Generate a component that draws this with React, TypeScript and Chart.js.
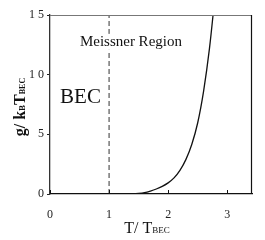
import React, { useEffect, useRef } from "react";
import { Chart, registerables } from "chart.js";

Chart.register(...registerables);

const curveT = [0, 0.5, 1.0, 1.2, 1.3, 1.4, 1.5, 1.6, 1.7, 1.8, 1.9, 2.0, 2.1, 2.2, 2.3, 2.4, 2.5, 2.6, 2.7, 2.8];
const curveG = [0, 0, 0, 0, 0, 0.01, 0.05, 0.12, 0.25, 0.42, 0.64, 0.93, 1.35, 1.98, 2.88, 4.15, 5.95, 8.6, 12.2, 16.9];
const dashT = [1, 1];
const dashG = [0, 15];
const xTicks = [0, 1, 2, 3];
const xTickLabels = ["0", "1", "2", "3"];
const yTicks = [0, 5, 10, 15];
const yTickLabels = ["0", "5", "1 0", "1 5"];
const regionLabel = "Meissner Region";
const phaseLabel = "BEC";

const SERIF = "'Liberation Serif', 'DejaVu Serif', serif";

const decorPlugin = {
  id: "decor",
  afterDraw(chart: any) {
    const { ctx, chartArea, scales } = chart;
    const { left, right, top, bottom } = chartArea;
    ctx.save();
    ctx.lineWidth = 1.2;
    ctx.strokeStyle = "#777";
    ctx.beginPath();
    ctx.moveTo(left, top + 0.5);
    ctx.lineTo(right, top + 0.5);
    ctx.stroke();
    ctx.strokeStyle = "#111";
    ctx.beginPath();
    ctx.moveTo(right - 0.5, top);
    ctx.lineTo(right - 0.5, bottom);
    ctx.stroke();
    ctx.strokeStyle = "#111";
    ctx.lineWidth = 1;
    xTicks.forEach((v) => {
      const px = Math.round(scales.x.getPixelForValue(v)) + 0.5;
      ctx.beginPath();
      ctx.moveTo(px, bottom);
      ctx.lineTo(px, bottom - 4);
      ctx.stroke();
    });
    ctx.fillStyle = "#111";
    ctx.textBaseline = "middle";
    ctx.textAlign = "center";
    ctx.font = `15px ${SERIF}`;
    const rx = scales.x.getPixelForValue(1.37);
    const ry = scales.y.getPixelForValue(12.75);
    const rw = ctx.measureText(regionLabel).width;
    ctx.fillStyle = "#fff";
    ctx.fillRect(rx - rw / 2 - 1, ry - 8, rw + 2, 16);
    ctx.fillStyle = "#111";
    ctx.fillText(regionLabel, rx, ry);
    ctx.textAlign = "left";
    ctx.font = `21px ${SERIF}`;
    ctx.fillText(phaseLabel, scales.x.getPixelForValue(0.17), scales.y.getPixelForValue(8.1));

    type Part = { t: string; size: number; dy: number; bold?: boolean };
    const drawRun = (parts: Part[], x: number, y: number) => {
      let cx = x;
      parts.forEach((p) => {
        ctx.font = `${p.bold ? "bold " : ""}${p.size}px ${SERIF}`;
        ctx.fillText(p.t, cx, y + p.dy);
        cx += ctx.measureText(p.t).width;
      });
    };
    const measureRun = (parts: Part[]) => {
      let w = 0;
      parts.forEach((p) => {
        ctx.font = `${p.bold ? "bold " : ""}${p.size}px ${SERIF}`;
        w += ctx.measureText(p.t).width;
      });
      return w;
    };
    ctx.textAlign = "left";
    ctx.textBaseline = "alphabetic";
    const xt: Part[] = [
      { t: "T/ T", size: 16, dy: 0 },
      { t: "BEC", size: 9, dy: 0 },
    ];
    const wx = measureRun(xt);
    drawRun(xt, 147 - wx / 2, 233);

    const yt: Part[] = [
      { t: "g/ k", size: 16, dy: 0, bold: true },
      { t: "B", size: 9, dy: 0, bold: true },
      { t: "T", size: 16, dy: 0, bold: true },
      { t: "BEC", size: 8, dy: 0, bold: true },
    ];
    const wy = measureRun(yt);
    ctx.translate(25, 107);
    ctx.rotate(-Math.PI / 2);
    drawRun(yt, -wy / 2, 0);
    ctx.restore();
  },
};

export default function App() {
  const ref = useRef<HTMLCanvasElement | null>(null);
  useEffect(() => {
    document.body.style.margin = "0";
    const chart = new Chart(ref.current as HTMLCanvasElement, {
      type: "line",
      data: {
        datasets: [
          {
            data: curveT.map((t, i) => ({ x: t, y: curveG[i] })),
            borderColor: "#111",
            borderWidth: 1.3,
            pointRadius: 0,
            cubicInterpolationMode: "monotone",
          },
          {
            data: dashT.map((t, i) => ({ x: t, y: dashG[i] })),
            borderColor: "#333",
            borderWidth: 1,
            borderDash: [5, 3],
            pointRadius: 0,
          },
        ],
      },
      options: {
        animation: false,
        responsive: false,
        maintainAspectRatio: false,
        layout: { padding: { left: 8, top: 15, right: 13, bottom: 16 } },
        plugins: { legend: { display: false }, tooltip: { enabled: false } },
        scales: {
          x: {
            type: "linear",
            min: 0,
            max: 3.42,
            afterBuildTicks: (s: any) => {
              s.ticks = xTicks.map((v) => ({ value: v }));
            },
            afterFit: (s: any) => {
              s.height = 30;
            },
            grid: { display: false },
            border: { display: true, color: "#111", width: 1.3 },
            ticks: {
              font: { family: SERIF, size: 12 },
              color: "#222",
              padding: 6,
              maxRotation: 0,
              callback: (v: any) => xTickLabels[xTicks.indexOf(v)] ?? "",
            },
          },
          y: {
            type: "linear",
            min: 0,
            max: 15,
            afterBuildTicks: (s: any) => {
              s.ticks = yTicks.map((v) => ({ value: v }));
            },
            afterFit: (s: any) => {
              s.width = 42;
            },
            grid: { drawOnChartArea: false, drawTicks: true, tickLength: 3, color: "#222" },
            border: { display: true, color: "#333", width: 1.3 },
            ticks: {
              font: { family: SERIF, size: 12 },
              color: "#222",
              padding: 3,
              callback: (v: any) => yTickLabels[yTicks.indexOf(v)] ?? "",
            },
          },
        },
      },
      plugins: [decorPlugin],
    } as any);
    return () => chart.destroy();
  }, []);
  return (
    <div style={{ position: "fixed", left: 0, top: 0, width: 265, height: 240, background: "#fff" }}>
      <canvas ref={ref} width={265} height={240} style={{ width: 265, height: 240 }} />
    </div>
  );
}
